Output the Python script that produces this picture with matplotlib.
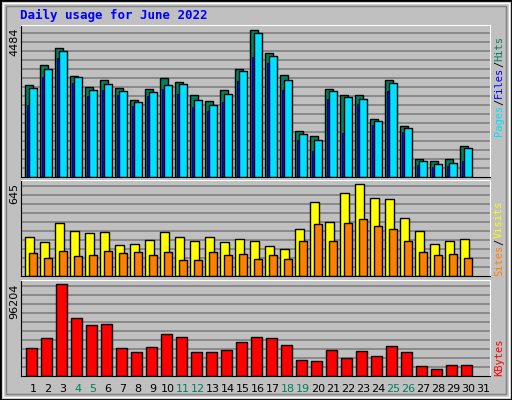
import matplotlib
matplotlib.use("Agg")
import matplotlib.pyplot as plt
from matplotlib.patches import Rectangle
import numpy as np

days = list(range(1, 32))
hits = [2810,3419,3936,3084,2749,2962,2719,2354,2688,3023,2901,2506,2323,2658,3297,4484,3764,3115,1380,1228,2688,2506,2506,1745,2962,1532,528,467,528,923]
pages = [2719,3297,3845,3054,2658,2841,2628,2293,2597,2810,2841,2354,2201,2536,3236,4393,3693,2962,1288,1106,2628,2445,2384,1684,2871,1471,467,375,406,862]
files = [2201,3054,3632,2871,2475,2658,2506,2171,2475,2688,2536,2141,2019,2293,2932,3662,3480,2658,1106,771,2384,1319,2232,1562,2628,1349,345,284,314,467]
sites = [273,238,372,316,301,308,217,224,252,308,273,245,273,238,259,245,210,189,330,519,379,582,645,547,540,407,316,224,245,259]
visits = [161,126,175,140,147,175,161,168,147,168,112,112,168,147,154,119,147,119,245,365,245,372,400,351,330,245,168,147,154,126]
kbytes = [28790,39323,96204,60390,53017,54070,28790,24577,29844,43536,40377,24577,24577,26684,35110,40377,39323,31950,16151,15097,26684,18257,25630,20364,30897,24577,9831,6671,10884,10884]
weekend = [4,5,11,12,18,19,25,26]

W, H = 512, 400
BG = "#C0C0C0"
fig = plt.figure(figsize=(W/100, H/100), dpi=100, facecolor=BG)

def fx(px): return px / W
def fy(py): return 1 - py / H

fig.patches.append(Rectangle((0, 0), 1, 1, transform=fig.transFigure, fill=False, ec="black", lw=2))
fig.patches.append(Rectangle((fx(3), fy(397)), fx(506), 394/H, transform=fig.transFigure, fill=False, ec="white", lw=1))
fig.patches.append(Rectangle((fx(6), fy(394)), fx(500), 388/H, transform=fig.transFigure, fill=False, ec="#808080", lw=1))

X0, X1 = 21, 490
NX = (X1 - X0) / 15.0

def make_ax(top, base, maxpx, maxval):
    ax = fig.add_axes([fx(X0), fy(base), fx(X1) - fx(X0), (base - top) / H])
    ax.set_facecolor(BG)
    ax.set_xlim(0, NX)
    ymax = maxval * (base - top) / maxpx
    ax.set_ylim(0, ymax)
    step = maxval * 9 / maxpx
    k = 1
    while k * step < ymax:
        ax.axhline(k * step, color="#808080", lw=1.2, zorder=0)
        k += 1
    ax.set_xticks([]); ax.set_yticks([])
    for s in ["top", "right"]:
        ax.spines[s].set_color("white")
    for s in ["left", "bottom"]:
        ax.spines[s].set_color("black")
    return ax

x = np.arange(30)
bk = dict(edgecolor="black", linewidth=1, align="edge")

ax1 = make_ax(25, 176.7, 147, max(hits))
ax1.bar(x + 0.29, hits, 0.49, color="#00805C", **bk)
ax1.bar(x + 0.55, pages, 0.49, color="#00E0FF", **bk)
ax1.bar(x + 0.39, files, 0.13, color="#0000FF", edgecolor="black", linewidth=0.5, align="edge")

ax2 = make_ax(180, 276.3, 92, max(sites))
ax2.bar(x + 0.29, sites, 0.56, color="#FFFF00", **bk)
ax2.bar(x + 0.55, visits, 0.49, color="#FF8000", **bk)

ax3 = make_ax(280.3, 375.7, 91.3, max(kbytes))
ax3.bar(x + 0.35, kbytes, 0.69, color="#FF0000", **bk)

mono = "DejaVu Sans Mono"
fig.text(fx(20), fy(15), "Daily usage for June 2022", color="#0000FF", fontsize=9,
         fontweight="bold", family=mono, va="center", ha="left")

for val, top in [(max(hits), 27), (max(sites), 183), (max(kbytes), 284)]:
    fig.text(fx(14), fy(top), str(val), rotation=90, fontsize=8, ha="center", va="top", family="DejaVu Sans")

renderer = fig.canvas.get_renderer()

def rlabel(parts, ybot):
    y = ybot
    for txt, col in parts:
        t = fig.text(fx(499), fy(y), txt, rotation=90, color=col, fontsize=7.5,
                     family=mono, ha="center", va="bottom")
        bb = t.get_window_extent(renderer)
        y -= bb.height

rlabel([("Pages", "#00E0FF"), ("/", "#000000"), ("Files", "#0000FF"), ("/", "#000000"), ("Hits", "#00805C")], 136)
rlabel([("Sites", "#FF8000"), ("/", "#000000"), ("Visits", "#FFFF00")], 276)
rlabel([("KBytes", "#FF0000")], 376)

for d in days:
    col = "#00805C" if d in weekend else "black"
    px = X0 + 15 * (d - 1 + 0.8)
    fig.text(fx(px), fy(389), str(d), color=col, fontsize=8, ha="center", va="center", family="DejaVu Sans")

fig.savefig("out.png", dpi=100, facecolor=BG)
